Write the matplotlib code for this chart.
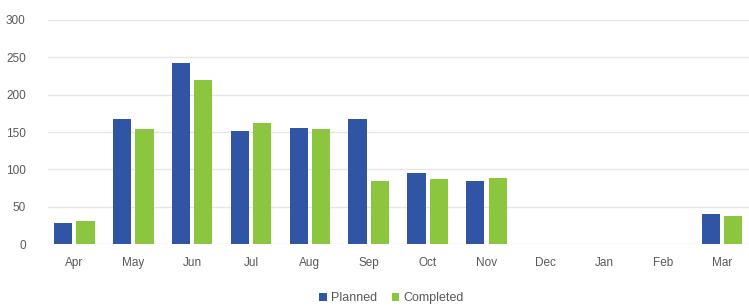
import matplotlib.pyplot as plt
import numpy as np

plt.rcParams['font.family'] = ['Liberation Sans', 'DejaVu Sans']

months = ['Apr', 'May', 'Jun', 'Jul', 'Aug', 'Sep', 'Oct', 'Nov', 'Dec', 'Jan', 'Feb', 'Mar']
planned = [28, 168, 243, 151, 156, 168, 95, 84, 0.6, 0.6, 0, 40]
completed = [31, 154, 220, 162, 154, 85, 87, 88, 0.6, 0.6, 0, 37]

blue = '#2f55a4'
green = '#8cc63e'

fig = plt.figure(figsize=(7.49, 3.07), dpi=100)
ax = fig.add_axes([0.064, 0.205, 0.936, 0.73])

x = np.arange(len(months))
w = 0.31
ax.bar(x - 0.19, planned, w, color=blue, label='Planned', zorder=3)
ax.bar(x + 0.19, completed, w, color=green, label='Completed', zorder=3)

ax.set_xlim(-0.45, 11.46)
ax.set_ylim(0, 300)
ax.set_yticks(range(0, 301, 50))
ax.set_xticks(x)
ax.set_xticklabels(months)
ax.yaxis.grid(True, color='#e6e6e6', linewidth=1, zorder=0)
for s in ax.spines.values():
    s.set_visible(False)
ax.tick_params(length=0, colors='#595959', labelsize=8.5)
ax.tick_params(axis='y', pad=16)
ax.tick_params(axis='x', pad=9)

ax.legend(loc='upper center', bbox_to_anchor=(0.49, -0.165), ncol=2, frameon=False,
          fontsize=9, handlelength=0.6, handleheight=0.6, handletextpad=0.3,
          columnspacing=1.2, labelcolor='#595959')

fig.savefig('out.png', dpi=100)
